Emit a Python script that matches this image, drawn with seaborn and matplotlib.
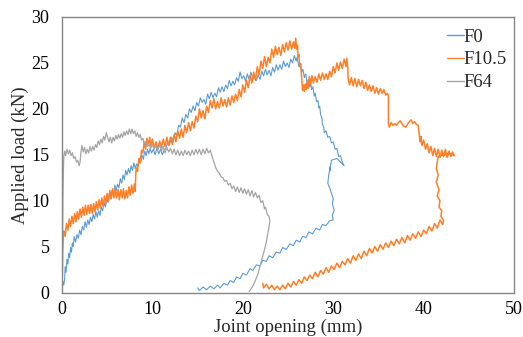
import matplotlib
matplotlib.use("Agg")
import matplotlib.pyplot as plt
import seaborn as sns
import pandas as pd

# (joint opening mm, applied load kN), noise included
f0_pts = [(0.0, 0.6), (0.1, 1.2), (0.2, 0.8), (0.3, 1.5), (0.35, 2.8), (0.45, 2.2), (0.55, 3.6), (0.65, 3.1),
          (0.75, 4.3), (0.85, 3.8), (0.95, 4.9), (1.05, 4.4), (1.15, 5.4), (1.25, 5.0), (1.35, 6.1), (1.5, 5.5),
          (1.65, 6.3), (1.8, 5.9), (1.95, 6.8), (2.1, 6.3), (2.25, 7.2), (2.4, 6.8), (2.55, 7.7), (2.7, 7.1),
          (2.85, 7.9), (3.0, 7.4), (3.15, 8.2), (3.3, 7.7), (3.45, 8.5), (3.6, 8.0), (3.75, 8.8), (3.9, 8.2),
          (4.05, 8.9), (4.2, 8.4), (4.35, 9.3), (4.5, 8.9), (4.65, 9.8), (4.8, 9.3), (4.95, 10.3), (5.1, 9.8),
          (5.25, 10.8), (5.4, 10.2), (5.55, 11.1), (5.7, 10.7), (5.85, 11.7), (6.0, 11.1), (6.15, 11.8),
          (6.3, 11.4), (6.45, 12.4), (6.6, 11.9), (6.75, 12.8), (6.9, 12.3), (7.05, 13.3), (7.2, 12.8),
          (7.35, 13.5), (7.5, 13.0), (7.65, 13.8), (7.8, 13.3), (7.95, 14.1), (8.1, 13.5), (8.25, 14.0),
          (8.4, 13.7), (8.55, 14.6), (8.7, 14.2), (8.85, 15.0), (9.0, 14.5), (9.15, 15.4), (9.3, 14.9),
          (9.45, 15.6), (9.6, 15.1), (9.75, 15.7), (9.9, 15.2), (10.1, 15.6), (10.3, 15.0), (10.5, 15.7),
          (10.7, 15.1), (10.9, 15.6), (11.1, 15.0), (11.3, 15.5), (11.5, 15.7), (11.7, 16.4), (11.9, 16.1),
          (12.1, 16.9), (12.3, 16.4), (12.5, 17.4), (12.7, 17.1), (12.9, 18.2), (13.1, 18.0), (13.3, 19.0),
          (13.5, 18.5), (13.7, 19.4), (13.9, 19.0), (14.1, 20.0), (14.3, 19.6), (14.5, 20.3), (14.7, 19.8),
          (14.9, 20.7), (15.1, 20.3), (15.3, 21.2), (15.5, 20.7), (15.7, 21.0), (15.9, 20.5), (16.1, 21.6),
          (16.3, 21.1), (16.5, 21.8), (16.7, 21.2), (16.9, 21.7), (17.1, 21.3), (17.3, 22.3), (17.5, 21.8),
          (17.7, 22.4), (17.9, 21.9), (18.1, 22.6), (18.3, 22.2), (18.5, 23.1), (18.7, 22.5), (18.9, 23.0),
          (19.1, 22.6), (19.3, 23.4), (19.5, 23.0), (19.7, 24.0), (19.9, 23.3), (20.1, 23.6), (20.3, 23.0),
          (20.5, 23.8), (20.7, 23.2), (20.9, 24.0), (21.1, 23.2), (21.3, 23.6), (21.5, 23.1), (21.7, 23.7),
          (21.9, 23.2), (22.1, 24.1), (22.3, 23.6), (22.5, 24.3), (22.7, 23.7), (22.9, 24.2), (23.1, 23.6),
          (23.3, 24.5), (23.5, 24.0), (23.7, 24.8), (23.9, 24.2), (24.1, 24.8), (24.3, 24.3), (24.5, 25.2),
          (24.7, 24.6), (24.9, 25.0), (25.1, 24.5), (25.3, 25.4), (25.5, 25.0), (25.7, 25.8), (25.9, 25.2),
          (26.0, 25.6), (26.2, 24.6), (26.35, 24.9), (26.5, 24.0), (26.65, 24.3), (26.8, 23.4), (26.95, 23.8),
          (27.1, 22.9), (27.25, 23.2), (27.4, 22.4), (27.5, 22.9), (27.6, 22.1), (27.75, 22.4), (27.9, 21.4),
          (28.0, 21.7), (28.15, 20.8), (28.3, 20.9), (28.4, 20.1), (28.5, 20.3), (28.6, 19.4), (28.75, 19.0),
          (28.8, 18.3), (28.95, 18.0), (29.0, 17.4), (29.2, 17.6), (29.4, 16.9), (29.6, 17.0), (29.8, 16.3),
          (30.0, 16.4), (30.2, 15.6), (30.4, 15.7), (30.6, 14.8), (30.8, 14.9), (31.0, 14.2), (31.2, 13.8),
          (30.4, 14.6), (29.8, 14.4), (29.6, 13.2), (29.7, 13.8), (29.5, 12.8), (29.4, 11.9), (29.6, 11.4),
          (29.8, 10.8), (30.0, 10.2), (29.9, 9.6), (30.1, 9.0), (29.9, 8.4), (30.0, 7.9), (29.6, 7.8),
          (29.2, 7.3), (28.8, 7.4), (28.5, 6.8), (28.1, 7.0), (27.7, 6.4), (27.3, 6.6), (27.0, 6.0),
          (26.6, 6.1), (26.3, 5.5), (25.9, 5.7), (25.6, 5.1), (25.2, 5.3), (24.8, 4.7), (24.4, 4.9),
          (24.1, 4.3), (23.7, 4.4), (23.3, 3.8), (22.9, 4.0), (22.6, 3.4), (22.2, 3.5), (21.9, 2.9),
          (21.5, 3.0), (21.1, 2.4), (20.8, 2.6), (20.4, 1.9), (20.0, 2.1), (19.7, 1.5), (19.3, 1.7),
          (19.0, 1.1), (18.6, 1.3), (18.3, 0.8), (17.9, 1.0), (17.5, 0.5), (17.2, 0.8), (16.8, 0.4),
          (16.4, 0.7), (16.0, 0.3), (15.6, 0.6), (15.2, 0.2), (15.0, 0.5)]

f105_pts = [(0.0, 0.3), (0.05, 2.5), (0.08, 4.5), (0.12, 5.5), (0.15, 6.3), (0.2, 6.7), (0.35, 6.1),
            (0.5, 7.5), (0.65, 6.8), (0.8, 8.0), (0.95, 7.2), (1.1, 8.3), (1.25, 7.5), (1.4, 8.6), (1.55, 7.7),
            (1.7, 8.8), (1.85, 8.0), (2.0, 9.1), (2.15, 8.2), (2.3, 9.3), (2.45, 8.4), (2.6, 9.5), (2.75, 8.5),
            (2.9, 9.5), (3.05, 8.6), (3.2, 9.6), (3.35, 8.6), (3.5, 9.7), (3.65, 8.8), (3.8, 9.9), (3.95, 9.0),
            (4.1, 10.1), (4.25, 9.2), (4.4, 10.3), (4.55, 9.4), (4.7, 10.5), (4.85, 9.7), (5.0, 10.8),
            (5.15, 10.0), (5.3, 11.1), (5.45, 10.2), (5.6, 11.3), (5.75, 10.3), (5.9, 11.3), (6.05, 10.3),
            (6.2, 11.2), (6.35, 10.1), (6.5, 11.2), (6.65, 10.3), (6.8, 11.3), (6.95, 10.2), (7.1, 11.1),
            (7.25, 10.3), (7.4, 11.5), (7.55, 10.6), (7.7, 11.7), (7.85, 10.8), (8.0, 11.8), (8.1, 11.0),
            (8.15, 12.5), (8.2, 13.6), (8.35, 13.2), (8.5, 14.6), (8.65, 14.1), (8.8, 15.5), (8.95, 15.2),
            (9.1, 16.4), (9.25, 15.6), (9.4, 16.8), (9.55, 16.0), (9.7, 16.9), (9.85, 15.9), (10.0, 16.7),
            (10.2, 15.7), (10.4, 16.4), (10.6, 15.6), (10.8, 16.5), (11.0, 15.8), (11.2, 16.7), (11.4, 15.9),
            (11.6, 16.9), (11.8, 16.0), (12.0, 16.9), (12.2, 16.1), (12.4, 17.2), (12.6, 16.4), (12.8, 17.6),
            (13.0, 16.8), (13.2, 17.8), (13.4, 16.9), (13.6, 18.2), (13.8, 17.4), (14.0, 18.5), (14.2, 17.6),
            (14.4, 18.6), (14.6, 17.9), (14.8, 19.2), (15.0, 18.6), (15.2, 20.0), (15.4, 19.0), (15.6, 19.8),
            (15.8, 18.9), (16.0, 20.3), (16.2, 19.6), (16.4, 20.9), (16.6, 20.1), (16.8, 21.1), (17.0, 20.0),
            (17.2, 20.8), (17.4, 20.1), (17.6, 21.2), (17.8, 20.3), (18.0, 21.0), (18.2, 20.2), (18.4, 21.2),
            (18.6, 20.4), (18.8, 21.4), (19.0, 20.7), (19.2, 21.6), (19.4, 20.9), (19.6, 22.1), (19.8, 21.3),
            (20.0, 22.6), (20.2, 21.8), (20.4, 23.1), (20.6, 22.3), (20.8, 23.6), (21.0, 22.8), (21.2, 24.0),
            (21.4, 23.1), (21.6, 24.6), (21.8, 23.7), (22.0, 25.2), (22.2, 24.4), (22.4, 25.7), (22.6, 24.6),
            (22.8, 25.6), (23.0, 25.0), (23.2, 26.5), (23.4, 25.6), (23.6, 26.8), (23.8, 25.9), (24.0, 26.7),
            (24.2, 25.8), (24.4, 27.0), (24.6, 26.2), (24.8, 27.2), (25.0, 26.4), (25.2, 27.4), (25.4, 26.5),
            (25.6, 27.3), (25.75, 26.6), (25.85, 27.7), (25.95, 26.5), (26.05, 26.9), (26.1, 25.6),
            (26.2, 25.9), (26.3, 24.6), (26.4, 24.9), (26.5, 23.6), (26.55, 22.8), (26.6, 22.0), (26.7, 22.6),
            (26.8, 21.9), (26.9, 22.7), (27.0, 22.1), (27.1, 22.9), (27.2, 22.2), (27.35, 23.5), (27.5, 22.7),
            (27.65, 23.6), (27.8, 22.8), (28.0, 23.5), (28.2, 22.9), (28.4, 23.8), (28.6, 23.1), (28.8, 23.9),
            (29.0, 23.2), (29.2, 23.8), (29.4, 23.2), (29.6, 24.1), (29.8, 23.5), (30.0, 24.6), (30.2, 23.9),
            (30.4, 25.0), (30.6, 24.2), (30.8, 25.1), (31.0, 24.4), (31.2, 25.4), (31.4, 24.6), (31.5, 25.5),
            (31.6, 24.5), (31.65, 23.3), (31.8, 22.6), (32.0, 23.4), (32.2, 22.5), (32.4, 23.3), (32.6, 22.4),
            (32.8, 23.2), (33.0, 22.5), (33.2, 23.1), (33.4, 22.2), (33.6, 22.9), (33.8, 22.0), (34.0, 22.6),
            (34.2, 21.9), (34.4, 22.5), (34.6, 21.7), (34.8, 22.3), (35.0, 21.6), (35.2, 22.2), (35.4, 21.7),
            (35.6, 22.1), (35.8, 21.5), (36.0, 21.7), (36.1, 21.3), (36.1, 18.4), (36.2, 18.0), (36.4, 18.5),
            (36.6, 18.2), (36.8, 18.4), (37.0, 18.2), (37.2, 18.5), (37.4, 18.7), (37.6, 18.4), (37.8, 18.1),
            (38.0, 18.0), (38.2, 18.3), (38.4, 18.6), (38.6, 18.8), (38.8, 18.4), (39.0, 18.6), (39.2, 18.3),
            (39.4, 18.2), (39.5, 17.3), (39.6, 16.4), (39.7, 17.0), (39.8, 16.0), (40.0, 16.6), (40.2, 15.6),
            (40.4, 16.2), (40.6, 15.2), (40.8, 15.9), (41.0, 14.9), (41.2, 15.7), (41.4, 14.8), (41.6, 15.6),
            (41.8, 14.7), (42.0, 15.5), (42.2, 14.8), (42.4, 15.6), (42.6, 14.7), (42.8, 15.4), (43.0, 14.8),
            (43.2, 15.3), (43.4, 14.9), (43.0, 15.1), (42.2, 15.0), (41.6, 14.8), (41.5, 14.2), (41.4, 13.5),
            (41.6, 12.8), (41.4, 12.0), (41.7, 11.2), (41.5, 10.5), (41.8, 10.0), (41.7, 9.3), (42.0, 8.9),
            (41.9, 8.3), (42.2, 7.9), (42.1, 7.4), (41.8, 7.9), (41.5, 7.0), (41.2, 7.5), (40.9, 6.7),
            (40.6, 7.2), (40.3, 6.4), (40.0, 6.8), (39.7, 6.1), (39.4, 6.6), (39.1, 5.9), (38.8, 6.4),
            (38.5, 5.7), (38.2, 6.2), (37.9, 5.4), (37.6, 6.0), (37.3, 5.3), (37.0, 5.8), (36.7, 5.1),
            (36.4, 5.6), (36.1, 4.9), (35.8, 5.4), (35.5, 4.7), (35.2, 5.2), (34.9, 4.5), (34.6, 5.0),
            (34.3, 4.3), (34.0, 4.8), (33.7, 4.0), (33.4, 4.5), (33.1, 3.7), (32.8, 4.2), (32.5, 3.5),
            (32.2, 4.0), (31.9, 3.2), (31.6, 3.7), (31.3, 3.0), (31.0, 3.4), (30.7, 2.7), (30.4, 3.2),
            (30.1, 2.5), (29.8, 2.9), (29.5, 2.2), (29.2, 2.7), (28.9, 2.0), (28.6, 2.4), (28.3, 1.7),
            (28.0, 2.2), (27.7, 1.5), (27.4, 1.9), (27.1, 1.3), (26.8, 1.7), (26.5, 1.0), (26.2, 1.4),
            (25.9, 0.8), (25.6, 1.2), (25.3, 0.6), (25.0, 1.0), (24.7, 0.4), (24.4, 0.8), (24.1, 0.3),
            (23.8, 0.7), (23.5, 0.3), (23.2, 0.8), (22.9, 0.4), (22.6, 0.9), (22.3, 0.5), (22.2, 1.0)]

f64_pts = [(0.0, 0.2), (0.05, 5.0), (0.1, 10.0), (0.15, 13.0), (0.2, 14.8), (0.3, 15.4), (0.4, 14.9),
           (0.55, 15.6), (0.7, 15.1), (0.85, 15.5), (1.0, 14.9), (1.15, 15.2), (1.3, 14.6), (1.45, 14.8),
           (1.6, 14.2), (1.75, 14.4), (1.9, 13.8), (2.0, 14.2), (2.1, 15.3), (2.2, 16.0), (2.35, 15.3),
           (2.5, 15.8), (2.65, 15.1), (2.8, 15.6), (2.95, 15.2), (3.1, 15.9), (3.25, 15.4), (3.4, 15.9),
           (3.55, 15.5), (3.7, 16.1), (3.85, 15.8), (4.0, 16.5), (4.15, 16.1), (4.3, 16.7), (4.45, 16.3),
           (4.6, 17.0), (4.75, 16.6), (4.9, 17.4), (5.05, 16.9), (5.2, 16.4), (5.35, 16.9), (5.5, 16.3),
           (5.65, 16.9), (5.8, 16.5), (5.95, 17.1), (6.1, 16.7), (6.25, 17.2), (6.4, 16.8), (6.55, 17.3),
           (6.7, 16.9), (6.85, 17.5), (7.0, 17.1), (7.15, 17.6), (7.3, 17.2), (7.45, 17.8), (7.6, 17.3),
           (7.75, 17.8), (7.9, 17.3), (8.05, 17.6), (8.2, 17.0), (8.35, 17.4), (8.5, 16.9), (8.65, 17.2),
           (8.8, 16.6), (8.95, 16.8), (9.1, 16.2), (9.25, 16.4), (9.4, 15.9), (9.6, 16.2), (9.8, 15.7),
           (10.0, 16.1), (10.2, 15.6), (10.4, 16.0), (10.6, 15.5), (10.8, 16.1), (11.0, 15.4), (11.2, 15.9),
           (11.4, 15.2), (11.6, 15.8), (11.8, 15.3), (12.0, 15.7), (12.2, 15.1), (12.4, 15.6), (12.6, 15.0),
           (12.8, 15.5), (13.0, 14.9), (13.2, 15.4), (13.4, 14.9), (13.6, 15.5), (13.8, 15.0), (14.0, 15.4),
           (14.2, 14.9), (14.4, 15.5), (14.6, 15.0), (14.8, 15.6), (15.0, 15.1), (15.2, 15.6), (15.4, 15.0),
           (15.6, 15.6), (15.8, 15.1), (16.0, 15.7), (16.2, 15.2), (16.4, 15.5), (16.6, 14.8), (16.8, 14.2),
           (17.0, 13.6), (17.2, 13.2), (17.4, 13.0), (17.6, 12.6), (17.8, 12.5), (18.0, 12.1), (18.2, 12.2),
           (18.4, 11.7), (18.6, 11.9), (18.8, 11.3), (19.0, 11.6), (19.2, 11.0), (19.4, 11.5), (19.6, 10.9),
           (19.8, 11.4), (20.0, 10.8), (20.2, 11.3), (20.4, 10.7), (20.6, 11.2), (20.8, 10.5), (21.0, 11.1),
           (21.2, 10.4), (21.4, 10.9), (21.6, 10.3), (21.8, 10.6), (22.0, 9.8), (22.2, 10.0), (22.4, 9.1),
           (22.5, 9.3), (22.7, 8.5), (22.9, 8.3), (23.0, 7.8), (22.9, 7.2), (22.8, 6.6), (22.7, 6.1),
           (22.6, 5.5), (22.45, 4.9), (22.3, 4.3), (22.15, 3.8), (22.0, 3.2), (21.85, 2.7), (21.7, 2.1),
           (21.5, 1.6), (21.3, 1.1), (21.1, 0.7), (20.9, 0.4), (20.7, 0.1)]

series = ["F0", "F10.5", "F64"]
colors = {"F0": "#5B9BD5", "F10.5": "#FF7F27", "F64": "#A5A5A5"}
widths = {"F0": 0.8, "F10.5": 1.1, "F64": 0.9}

frames = []
for name, pts in zip(series, [f0_pts, f105_pts, f64_pts]):
    d = pd.DataFrame(pts, columns=["x", "y"])
    d["series"] = name
    frames.append(d)
df = pd.concat(frames, ignore_index=True)

sns.set_theme(style="white")
plt.rcParams["font.family"] = ["Liberation Serif", "DejaVu Serif"]

fig, ax = plt.subplots(figsize=(5.23, 3.37), dpi=100)
fig.subplots_adjust(left=0.1185, right=0.983, top=0.9496, bottom=0.132)

for name in series:
    sub = df[df["series"] == name]
    sns.lineplot(data=sub, x="x", y="y", sort=False, estimator=None, color=colors[name],
                 linewidth=widths[name], label=name, ax=ax)

ax.set_xlim(0, 50)
ax.set_ylim(0, 30)
ax.set_xticks([0, 10, 20, 30, 40, 50])
ax.set_yticks([0, 5, 10, 15, 20, 25, 30])
ax.tick_params(axis="both", labelsize=13, length=0, colors="black")
ax.tick_params(axis="x", pad=6)
ax.tick_params(axis="y", pad=9)
ax.set_xlabel("Joint opening (mm)", fontsize=13.5, labelpad=0.5)
ax.set_ylabel("Applied load (kN)", fontsize=13.5, labelpad=2)
for sp in ax.spines.values():
    sp.set_color("#868686")
    sp.set_linewidth(1.0)

leg = ax.legend(loc="upper left", bbox_to_anchor=(0.835, 0.985), frameon=False, fontsize=13.5,
                handlelength=0.9, handletextpad=0.0, labelspacing=0.3, borderaxespad=0)
for line in leg.get_lines():
    line.set_linewidth(1.0)

fig.savefig("out.png", dpi=100)
